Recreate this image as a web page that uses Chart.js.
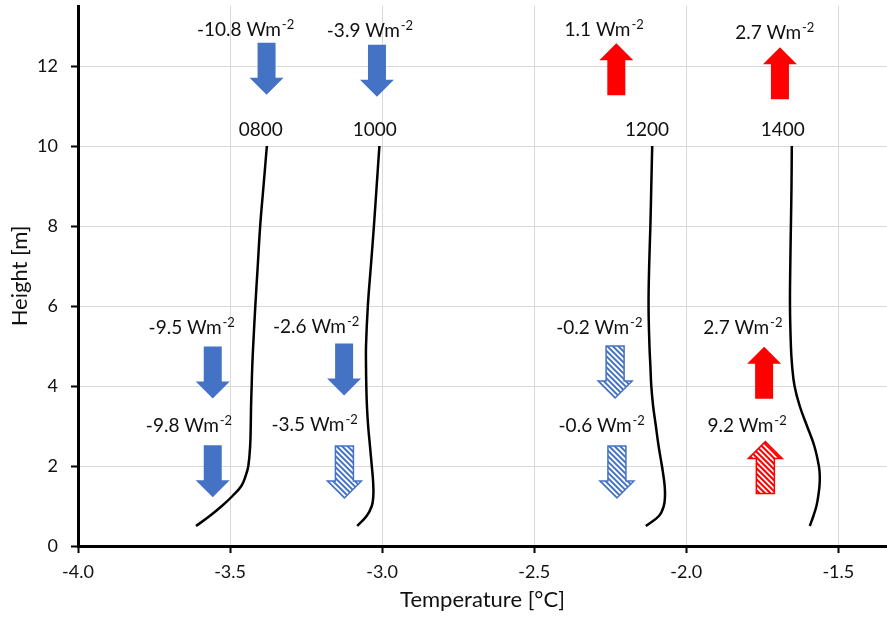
<!DOCTYPE html>
<html>
<head>
<meta charset="utf-8">
<script src="https://cdn.jsdelivr.net/npm/chart.js@4/dist/chart.umd.min.js"></script>
<style>
    html, body { margin: 0; padding: 0; background: #fff; }
    #wrap { width: 887px; height: 617px; position: relative; }
</style>
</head>
<body>
<div id="wrap"><canvas id="profileChart"></canvas></div>
<script>
// ─── PROFILE DATA (height m → temperature °C) ─────────────────
const heights = [0.5, 0.75, 1, 1.25, 1.5, 1.75, 2, 2.5, 3, 3.5, 4, 4.5, 5, 6, 7, 8, 9, 10];
const t0800 = [-3.612, -3.567, -3.527, -3.492, -3.463, -3.449, -3.440, -3.434, -3.432, -3.431, -3.429, -3.427, -3.424, -3.417, -3.409, -3.401, -3.390, -3.379];
const t1000 = [-3.082, -3.051, -3.034, -3.029, -3.029, -3.031, -3.034, -3.040, -3.046, -3.050, -3.052, -3.053, -3.053, -3.047, -3.037, -3.027, -3.018, -3.009];
const t1200 = [-2.133, -2.090, -2.074, -2.070, -2.071, -2.075, -2.080, -2.091, -2.100, -2.109, -2.115, -2.118, -2.121, -2.124, -2.122, -2.118, -2.115, -2.112];
const t1400 = [-1.594, -1.582, -1.572, -1.566, -1.562, -1.561, -1.564, -1.579, -1.603, -1.627, -1.644, -1.652, -1.656, -1.659, -1.658, -1.656, -1.654, -1.653];
const profiles = [t0800, t1000, t1200, t1400];

// ─── TIME LABELS ABOVE EACH PROFILE ───────────────────────────
const timeNames = ['0800', '1000', '1200', '1400'];
const timeLabelT = [-3.399, -3.024, -2.129, -1.683];
const timeLabelH = 10.41;

// ─── HEAT FLUX ARROWS ─────────────────────────────────────────
const fluxValues  = ['-10.8', '-3.9', '1.1', '2.7', '-9.5', '-2.6', '-0.2', '2.7', '-9.8', '-3.5', '-0.6', '9.2'];
const fluxArrowT  = [-3.380, -3.017, -2.230, -1.692, -3.557, -3.125, -2.234, -1.744, -3.557, -3.124, -2.228, -1.740];
const fluxArrowH  = [11.93, 11.88, 11.92, 11.82, 4.34, 4.41, 4.35, 4.33, 1.87, 1.85, 1.85, 1.96];
const fluxLabelT  = [-3.449, -3.040, -2.270, -1.709, -3.626, -3.217, -2.286, -1.814, -3.635, -3.222, -2.278, -1.800];
const fluxLabelH  = [12.93, 12.90, 12.92, 12.84, 5.46, 5.50, 5.48, 5.47, 3.01, 3.05, 3.01, 3.03];
const fluxHatched = [false, false, false, false, false, false, true, false, false, true, true, true];

// ─── AXES ─────────────────────────────────────────────────────
const xMin = -4.0, xMax = -1.34, xStep = 0.5;
const yMin = 0, yMax = 13.5, yStep = 2;

const FONT = 'Lato, "Open Sans", sans-serif';
const BLUE = '#4472c4';
const RED  = '#ff0000';

// ─── ARROW + LABEL PLUGIN ─────────────────────────────────────
function arrowPath(ctx, cx, cy, up) {
    const L = 52, sw = 18, hw = 34, hl = 17;
    const s = up ? -1 : 1;
    const tipY = cy + s * L / 2, tailY = cy - s * L / 2, baseY = tipY - s * hl;
    ctx.beginPath();
    ctx.moveTo(cx - sw / 2, tailY);
    ctx.lineTo(cx + sw / 2, tailY);
    ctx.lineTo(cx + sw / 2, baseY);
    ctx.lineTo(cx + hw / 2, baseY);
    ctx.lineTo(cx, tipY);
    ctx.lineTo(cx - hw / 2, baseY);
    ctx.lineTo(cx - sw / 2, baseY);
    ctx.closePath();
}

function drawArrow(ctx, cx, cy, up, hatched) {
    const col = up ? RED : BLUE;
    ctx.save();
    if (!hatched) {
        arrowPath(ctx, cx, cy, up);
        ctx.fillStyle = col;
        ctx.fill();
    } else {
        arrowPath(ctx, cx, cy, up);
        ctx.fillStyle = '#fff';
        ctx.fill();
        ctx.save();
        ctx.clip();
        ctx.strokeStyle = col;
        ctx.lineWidth = 2;
        for (let k = -70; k <= 70; k += 5.5) {
            ctx.beginPath();
            ctx.moveTo(cx + k - 40, cy - 40);
            ctx.lineTo(cx + k + 40, cy + 40);
            ctx.stroke();
        }
        ctx.restore();
        arrowPath(ctx, cx, cy, up);
        ctx.strokeStyle = col;
        ctx.lineWidth = 1.5;
        ctx.stroke();
    }
    ctx.restore();
}

function drawFluxLabel(ctx, cx, cy, value) {
    const main = value + ' Wm', sup = '-2';
    ctx.save();
    ctx.fillStyle = '#111';
    ctx.textBaseline = 'alphabetic';
    ctx.textAlign = 'left';
    ctx.font = '19px ' + FONT;
    const wMain = ctx.measureText(main).width;
    ctx.font = '13px ' + FONT;
    const wSup = ctx.measureText(sup).width;
    const x0 = cx - (wMain + wSup + 1) / 2;
    const base = cy + 6.8;
    ctx.font = '19px ' + FONT;
    ctx.fillText(main, x0, base);
    ctx.font = '13px ' + FONT;
    ctx.fillText(sup, x0 + wMain + 1, base - 7);
    ctx.restore();
}

const annotationPlugin = {
    id: 'fluxAnnotations',
    afterDatasetsDraw(chart) {
        const ctx = chart.ctx;
        const xs = chart.scales.x, ys = chart.scales.y;

        fluxValues.forEach((v, i) => {
            const up = parseFloat(v) > 0;
            drawArrow(ctx, xs.getPixelForValue(fluxArrowT[i]), ys.getPixelForValue(fluxArrowH[i]), up, fluxHatched[i]);
            drawFluxLabel(ctx, xs.getPixelForValue(fluxLabelT[i]), ys.getPixelForValue(fluxLabelH[i]), v);
        });

        ctx.save();
        ctx.fillStyle = '#111';
        ctx.font = '19px ' + FONT;
        ctx.textAlign = 'center';
        ctx.textBaseline = 'alphabetic';
        timeNames.forEach((n, i) => {
            ctx.fillText(n, xs.getPixelForValue(timeLabelT[i]), ys.getPixelForValue(timeLabelH) + 6.8);
        });
        ctx.restore();
    }
};

// ─── CHART ────────────────────────────────────────────────────
let profileChart;

function initChart() {
    if (profileChart) profileChart.destroy();
    profileChart = new Chart(document.getElementById('profileChart'), {
        type: 'scatter',
        data: {
            datasets: profiles.map((p, k) => ({
                label: timeNames[k],
                data: p.map((t, i) => ({ x: t, y: heights[i] })),
                showLine: true,
                borderColor: '#000',
                borderWidth: 2.5,
                pointRadius: 0,
                tension: 0.4,
                fill: false
            }))
        },
        options: {
            responsive: true,
            maintainAspectRatio: false,
            animation: false,
            layout: { padding: { top: 6, right: 0, left: 0, bottom: 0 } },
            plugins: {
                legend: { display: false },
                tooltip: { enabled: false }
            },
            scales: {
                x: {
                    type: 'linear',
                    min: xMin, max: xMax,
                    afterFit: s => { s.height = 71; s.paddingRight = 0; },
                    ticks: {
                        stepSize: xStep,
                        includeBounds: false,
                        color: '#111',
                        padding: 8,
                        font: { family: FONT, size: 18 },
                        callback: v => v.toFixed(1)
                    },
                    grid: { color: '#d9d9d9', lineWidth: 1, tickLength: 7, tickColor: '#000', tickWidth: 2 },
                    border: { color: '#000', width: 3 },
                    title: {
                        display: true,
                        text: 'Temperature [°C]',
                        color: '#111',
                        font: { family: FONT, size: 22 },
                        padding: { top: 0, bottom: 4 }
                    }
                },
                y: {
                    type: 'linear',
                    min: yMin, max: yMax,
                    afterFit: s => { s.width = 78; s.paddingTop = 0; s.paddingBottom = 0; },
                    ticks: {
                        stepSize: yStep,
                        includeBounds: false,
                        color: '#111',
                        padding: 13,
                        font: { family: FONT, size: 18 }
                    },
                    grid: { color: '#d9d9d9', lineWidth: 1, tickLength: 7, tickColor: '#000', tickWidth: 2 },
                    border: { color: '#000', width: 3 },
                    title: {
                        display: true,
                        text: 'Height [m]',
                        color: '#111',
                        font: { family: FONT, size: 22 },
                        padding: { top: 7, bottom: 0 }
                    }
                }
            }
        },
        plugins: [annotationPlugin]
    });
}

// ─── INIT ─────────────────────────────────────────────────────
initChart();
</script>
</body>
</html>
